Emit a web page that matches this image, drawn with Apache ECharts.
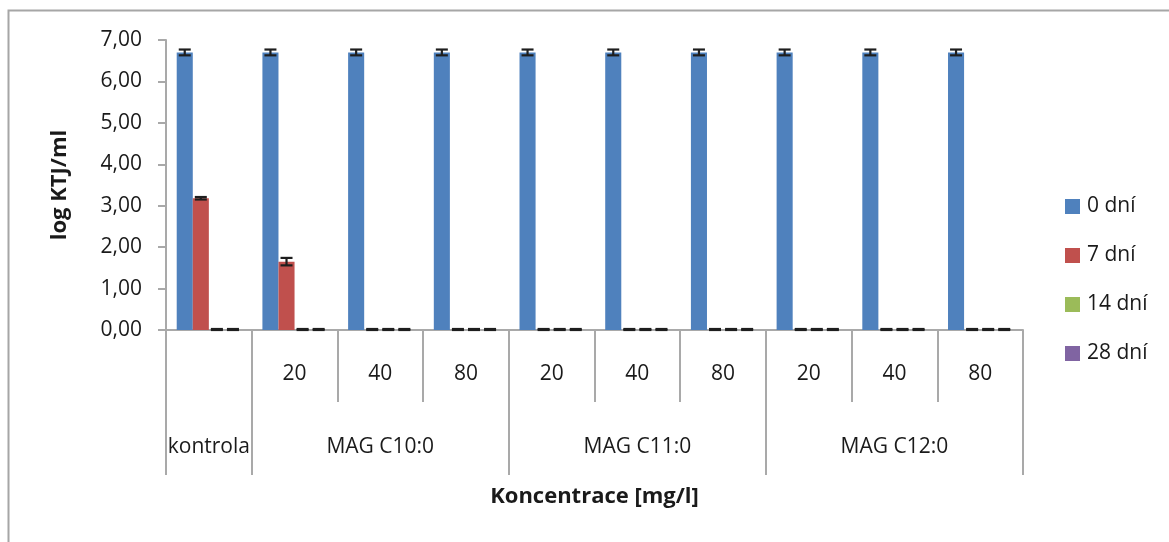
<!DOCTYPE html>
<html>
<head>
<meta charset="utf-8">
<style>
  html, body { margin: 0; padding: 0; background: #fff; }
  #chart { width: 1169px; height: 542px; }
</style>
<script src="https://cdn.jsdelivr.net/npm/echarts@6/dist/echarts.min.js"></script>
</head>
<body>
<div id="chart"></div>
<script>
// Concentration labels (first axis row) and group labels (second axis row)
const concLabels = ['', '20', '40', '80', '20', '40', '80', '20', '40', '80'];
const groupLabels = ['kontrola', '', 'MAG C10:0', '', '', 'MAG C11:0', '', '', 'MAG C12:0', ''];
// Category indices where a group starts (long separator ticks)
const groupStarts = [0, 1, 4, 7];

const seriesNames = ['0 dní', '7 dní', '14 dní', '28 dní'];
const colors = ['#4F81BD', '#C0504D', '#9BBB59', '#8064A2'];

// log KTJ/ml means and their standard deviations
const day0 = [6.70, 6.70, 6.70, 6.70, 6.70, 6.70, 6.70, 6.70, 6.70, 6.70];
const day7 = [3.18, 1.65, 0, 0, 0, 0, 0, 0, 0, 0];
const day14 = [0, 0, 0, 0, 0, 0, 0, 0, 0, 0];
const day28 = [0, 0, 0, 0, 0, 0, 0, 0, 0, 0];

const err0 = [0.07, 0.07, 0.07, 0.07, 0.07, 0.07, 0.07, 0.07, 0.07, 0.07];
const err7 = [0.03, 0.09, 0, 0, 0, 0, 0, 0, 0, 0];
const err14 = [0, 0, 0, 0, 0, 0, 0, 0, 0, 0];
const err28 = [0, 0, 0, 0, 0, 0, 0, 0, 0, 0];

const values = [day0, day7, day14, day28];
const errors = [err0, err7, err14, err28];

const FONT = '"Open Sans", Lato, sans-serif';
const TEXT_COLOR = '#1A1A1A';
const AXIS_GREY = '#A9A9A9';
const CAT_GAP = 0.25;

function errorSeries(si) {
  const data = values[si].map((v, i) => [i, v, errors[si][i]]);
  return {
    type: 'custom',
    name: seriesNames[si] + ' SD',
    silent: true,
    z: 5,
    data: data,
    encode: { x: 0, y: 1 },
    renderItem: function (params, api) {
      const idx = api.value(0);
      const v = api.value(1);
      const e = api.value(2);
      const band = api.size([1, 0])[0];
      const barW = band * (1 - CAT_GAP) / 4;
      const center = api.coord([idx, v]);
      const x = center[0] + (si - 1.5) * barW;
      const yHi = api.coord([idx, v + e])[1];
      const yLo = api.coord([idx, Math.max(v - e, 0)])[1] - (v - e <= 0 ? 1 : 0);
      const half = 6;
      const style = { stroke: '#1E1E1E', lineWidth: 2.2 };
      return {
        type: 'group',
        children: [
          { type: 'line', shape: { x1: x, y1: yHi, x2: x, y2: yLo }, style: style },
          { type: 'line', shape: { x1: x - half, y1: yHi, x2: x + half, y2: yHi }, style: style },
          { type: 'line', shape: { x1: x - half, y1: yLo, x2: x + half, y2: yLo }, style: style }
        ]
      };
    }
  };
}

const chart = echarts.init(document.getElementById('chart'), null, { renderer: 'canvas' });

const barSeries = seriesNames.map((name, si) => ({
  type: 'bar',
  name: name,
  data: values[si],
  barGap: '0%',
  barCategoryGap: (CAT_GAP * 100) + '%',
  itemStyle: { color: colors[si] },
  xAxisIndex: 0,
  z: 2
}));

chart.setOption({
  animation: false,
  textStyle: { fontFamily: FONT },
  graphic: [{
    type: 'rect',
    shape: { x: 8.5, y: 10.5, width: 1300, height: 700 },
    style: { fill: 'none', stroke: '#A6A6A6', lineWidth: 2 },
    silent: true,
    z: -10
  }],
  grid: { left: 166, right: 146, top: 40, bottom: 212, containLabel: false },
  legend: {
    orient: 'vertical',
    left: 1060,
    top: 191,
    itemWidth: 15,
    itemHeight: 15,
    itemGap: 28,
    icon: 'rect',
    data: seriesNames,
    textStyle: { fontFamily: FONT, fontSize: 21, color: TEXT_COLOR, padding: [0, 0, 0, 2] }
  },
  xAxis: [
    {
      type: 'category',
      data: concLabels,
      position: 'bottom',
      axisLine: { show: true, lineStyle: { color: AXIS_GREY, width: 2 } },
      axisTick: { show: true, length: 72, interval: 0, lineStyle: { color: AXIS_GREY, width: 2 } },
      axisLabel: { interval: 0, margin: 34, fontSize: 21, color: TEXT_COLOR, fontFamily: FONT },
      splitLine: { show: false }
    },
    {
      type: 'category',
      data: groupLabels,
      position: 'bottom',
      name: 'Koncentrace [mg/l]',
      nameLocation: 'middle',
      nameGap: 156,
      nameTextStyle: { fontFamily: FONT, fontSize: 22, fontWeight: 'bold', color: TEXT_COLOR, verticalAlign: 'top' },
      axisLine: { show: false },
      axisTick: {
        show: true,
        length: 145,
        interval: function (index) { return groupStarts.indexOf(index) >= 0; },
        lineStyle: { color: AXIS_GREY, width: 2 }
      },
      axisLabel: { interval: 0, margin: 107, fontSize: 21, color: TEXT_COLOR, fontFamily: FONT },
      splitLine: { show: false }
    }
  ],
  yAxis: {
    type: 'value',
    min: 0,
    max: 7,
    interval: 1,
    name: 'log KTJ/ml',
    nameLocation: 'middle',
    nameGap: 95,
    nameTextStyle: { fontFamily: FONT, fontSize: 22, fontWeight: 'bold', color: TEXT_COLOR },
    axisLine: { show: true, lineStyle: { color: AXIS_GREY, width: 2 } },
    axisTick: { show: true, length: 8, lineStyle: { color: AXIS_GREY, width: 2 } },
    axisLabel: {
      margin: 24,
      fontSize: 21,
      color: TEXT_COLOR,
      fontFamily: FONT,
      formatter: function (v) { return v.toFixed(2).replace('.', ','); }
    },
    splitLine: { show: false }
  },
  series: barSeries.concat([0, 1, 2, 3].map(errorSeries))
});
</script>
</body>
</html>
